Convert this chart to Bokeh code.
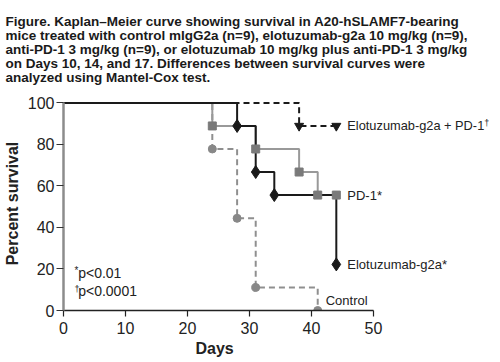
from bokeh.plotting import figure
from bokeh.models import Range1d, Label, FixedTicker, Title
from bokeh.embed import file_html
from bokeh.resources import INLINE

# ---- data (Kaplan-Meier step points) ----
ctrl_days = [0, 24, 28, 31, 41]
ctrl_surv = [100, 77.8, 44.4, 11.1, 0]

pd1_days = [0, 24, 31, 38, 41, 44]
pd1_surv = [100, 88.9, 77.8, 66.7, 55.6, 55.6]

elo_days = [0, 28, 31, 34, 44]
elo_surv = [100, 88.9, 66.7, 55.6, 22.2]

combo_days = [0, 38, 44]
combo_surv = [100, 88.9, 88.9]

x_ticks = [0, 10, 20, 30, 40, 50]
y_ticks = [0, 20, 40, 60, 80, 100]

title_lines = [
    "Figure. Kaplan\u2013Meier curve showing survival in A20-hSLAMF7-bearing",
    "mice treated with control mIgG2a (n=9), elotuzumab-g2a 10 mg/kg (n=9),",
    "anti-PD-1 3 mg/kg (n=9), or elotuzumab 10 mg/kg plus anti-PD-1 3 mg/kg",
    "on Days 10, 14, and 17. Differences between survival curves were",
    "analyzed using Mantel-Cox test.",
]

FONT = "Liberation Sans"

p = figure(width=500, height=362, output_backend="svg", toolbar_location=None,
           x_range=Range1d(0, 70.48), y_range=Range1d(0, 103.08),
           min_border_left=63, min_border_right=0, min_border_top=96, min_border_bottom=52)
p.outline_line_color = None
p.xgrid.visible = False
p.ygrid.visible = False
p.border_fill_color = "white"
p.background_fill_color = "white"

ya = p.yaxis[0]
ya.ticker = FixedTicker(ticks=y_ticks)
ya.bounds = (0, 100)
ya.axis_line_color = "#8c8c8c"
ya.axis_line_width = 2.5
ya.major_tick_line_color = "#333333"
ya.major_tick_line_width = 1.2
ya.major_tick_out = 7
ya.major_tick_in = 0
ya.minor_tick_line_color = None
ya.major_label_text_font = FONT
ya.major_label_text_font_size = "16px"
ya.major_label_text_color = "#222222"
ya.major_label_standoff = 2
ya.axis_label = "Percent survival"
ya.axis_label_text_font = FONT
ya.axis_label_text_font_style = "bold"
ya.axis_label_text_font_size = "16px"
ya.axis_label_text_color = "#222222"
ya.axis_label_standoff = 4

xa = p.xaxis[0]
xa.ticker = FixedTicker(ticks=x_ticks)
xa.bounds = (0, 50)
xa.axis_line_color = "#222222"
xa.axis_line_width = 1.5
xa.major_tick_line_color = "#222222"
xa.major_tick_line_width = 1.2
xa.major_tick_out = 6
xa.major_tick_in = 0
xa.minor_tick_line_color = None
xa.major_label_text_font = FONT
xa.major_label_text_font_size = "16px"
xa.major_label_text_color = "#222222"
xa.major_label_standoff = 5

p.add_layout(Title(text="Days", align="left", offset=132, standoff=2,
                   text_font=FONT, text_font_size="16px", text_font_style="bold",
                   text_color="#222222"), "below")

p.add_layout(Title(text="\n".join(title_lines), align="left", offset=-58, standoff=23,
                   text_font=FONT, text_font_size="13.5px", text_font_style="bold",
                   text_line_height=0.94, text_color="#1a1a1a"), "above")

GRAY_DASH = "#8f8f8f"
GRAY = "#999999"
BLACK = "#1a1a1a"

p.step(ctrl_days, ctrl_surv, mode="after", line_color=GRAY_DASH, line_width=2, line_dash="6 4")
p.step(pd1_days, pd1_surv, mode="after", line_color=GRAY, line_width=2)
p.step(elo_days, elo_surv, mode="after", line_color=BLACK, line_width=2)
p.step(combo_days, combo_surv, mode="after", line_color=BLACK, line_width=2, line_dash="6 4")

p.scatter(ctrl_days[1:], ctrl_surv[1:], marker="circle", size=8, fill_color="#888888", line_color="#888888")
p.scatter(pd1_days[1:], pd1_surv[1:], marker="square", size=8, fill_color="#7a7a7a", line_color="#7a7a7a")
p.scatter(elo_days[1:], elo_surv[1:], marker="diamond", size=13, fill_color=BLACK, line_color=BLACK)
p.scatter(combo_days[1:], combo_surv[1:], marker="inverted_triangle", size=9, fill_color=BLACK, line_color=BLACK)

def lab(x, y, text, size="13px", xo=0, yo=0, units="data", style="normal", color="#222222", baseline="middle"):
    p.add_layout(Label(x=x, y=y, x_units=units, y_units=units, text=text, x_offset=xo, y_offset=yo,
                       text_font=FONT, text_font_size=size, text_font_style=style,
                       text_color=color, text_baseline=baseline, text_align="left"))

lab(combo_days[-1], combo_surv[-1], "Elotuzumab-g2a + PD-1", size="12.8px", xo=11)
lab(combo_days[-1], combo_surv[-1], "\u2020", size="9px", xo=148, yo=3)
lab(pd1_days[-1], pd1_surv[-1], "PD-1*", xo=11)
lab(elo_days[-1], elo_surv[-1], "Elotuzumab-g2a*", xo=11)
lab(ctrl_days[-1], ctrl_surv[-1], "Control", xo=8, yo=10)

lab(11, 40, "*", size="10px", units="screen")
lab(14.7, 37.6, "p<0.01", size="14px", units="screen")
lab(11, 22, "\u2020", size="9px", units="screen")
lab(14.7, 19.3, "p<0.0001", size="14px", units="screen")

open("out.html", "w").write(file_html(p, INLINE))
